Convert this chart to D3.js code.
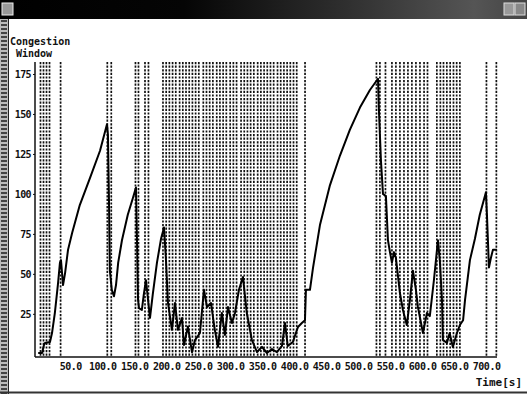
<!DOCTYPE html>
<html>
<head>
<meta charset="utf-8">
<script src="https://cdn.jsdelivr.net/npm/d3@7"></script>
<style>
  html, body { margin: 0; padding: 0; background: #fff; }
  svg { display: block; }
  text { font-family: "DejaVu Sans Mono", "Liberation Mono", monospace; font-weight: bold; fill: #111; }
</style>
</head>
<body>
<svg id="chart" width="527" height="394"></svg>
<script>
// ---- data ----
const yTicks = [25, 50, 75, 100, 125, 150, 175];
const xTicks = [50, 100, 150, 200, 250, 300, 350, 400, 450, 500, 550, 600, 650, 700];

// congestion window trace: time [s] and window size
const timeS = [0, 6, 9, 10.6, 18.4, 21.6, 26, 31, 34, 35.6, 38.8, 42, 46.6, 53, 65, 81, 96.6, 107.5,
  109, 110.6, 112, 115, 118.4, 121.6, 125, 130.9, 140, 148, 152.8,
  154.4, 156, 157.5, 162, 165, 168.4, 171.6, 174.7, 179, 185.6, 192, 196.6,
  199.7, 202.8, 209, 213.8, 218.4, 224.7, 227.8, 234, 240.3, 245, 252.8, 259, 263.8, 270, 276, 280.9,
  287, 291.9, 296.6, 302.8, 307.5, 313.7, 320, 326, 334, 341.9, 349.7, 357.5, 365.3, 373, 381,
  385.6, 390, 398, 406, 412, 416.9, 418.4, 424.7, 429.4, 440.3, 456, 471.6, 487, 502.8, 518.4, 531,
  532.5, 535.6, 538.8, 543.4, 546.6, 549.7, 552.8, 556, 559, 565.3, 570, 576, 580.9, 585.6, 590.3,
  593.4, 601.3, 607.5, 612, 618.4, 624.7, 627.8, 631, 632.5, 638.8, 643, 648, 654.4, 659, 664, 667,
  674.7, 682.5, 690, 699.7, 701.3, 704.4, 707.5, 710.6, 716.9];
const cwnd = [0.5, 0.5, 5.5, 6.8, 7.4, 13, 25.5, 44, 57, 58.6, 43, 50.5, 65, 75.5, 93, 110, 127, 143.6,
  137, 96, 52, 40, 36, 43, 57, 71, 87, 97.4, 104,
  71, 34, 28.6, 27.4, 37, 46, 34, 22.4, 37, 57, 72, 79,
  58.6, 31.8, 15, 31.8, 15, 22.4, 5.5, 17, 1, 8.6, 13, 40, 29.3, 31.8, 15, 4.3,
  25.5, 11.8, 29.3, 19.3, 25.5, 40, 48, 25.5, 8.6, 1.1, 4.3, 0.5, 3, 1.1, 4.9,
  19.3, 4.9, 7.4, 16.8, 19.3, 21, 40, 40, 53.6, 80.5, 105.5, 124, 140, 154, 165, 172,
  152, 121, 100, 98.6, 71, 63.6, 57, 63.6, 60, 38, 27.4, 18, 33.6, 52, 40,
  29.3, 13, 25.5, 23.6, 46, 71, 57.4, 33.6, 8.6, 6.8, 13, 4.3, 13, 18, 21, 33.6,
  58.6, 72, 86.8, 101, 87, 54, 60, 65, 65];

// loss / retransmission event times [s] (dashed vertical markers)
const lossTimes = [3.6, 8.3, 13, 17.7, 35,
  108, 114.2,
  152, 156.7, 166.9, 172.3,
  195, 200, 205, 210, 215, 221, 226, 231, 236, 241, 246, 251,
  258, 263, 268, 273, 279, 284, 289, 294, 300, 305, 310,
  317, 322, 327, 332, 337, 343, 348, 353, 358, 363, 368, 374, 379, 384, 389, 394, 399, 404,
  417,
  528.6, 534, 542.7,
  552.8, 559, 565.3, 571.6, 577.8,
  584, 590.3, 596.6, 603, 608.4,
  623, 628.5, 633.4, 638.6, 643.8, 649, 654, 659,
  700.5, 716];

// ---- drawing ----
const svg = d3.select("#chart");
const W = 527, H = 394;

const defs = svg.append("defs");
const grad = defs.append("linearGradient").attr("id", "tb").attr("x1", 0).attr("x2", 1).attr("y1", 0).attr("y2", 0);
grad.append("stop").attr("offset", "0").attr("stop-color", "#000");
grad.append("stop").attr("offset", "0.35").attr("stop-color", "#050505");
grad.append("stop").attr("offset", "0.65").attr("stop-color", "#2e2e2e");
grad.append("stop").attr("offset", "0.9").attr("stop-color", "#555");
grad.append("stop").attr("offset", "1").attr("stop-color", "#444");

const pat = defs.append("pattern").attr("id", "strip").attr("width", 8).attr("height", 4).attr("patternUnits", "userSpaceOnUse");
pat.append("rect").attr("width", 8).attr("height", 4).attr("fill", "#bbb");
pat.append("rect").attr("x", 1).attr("y", 0).attr("width", 6).attr("height", 2).attr("fill", "#444");

svg.append("rect").attr("width", W).attr("height", H).attr("fill", "#fff");

// window chrome
svg.append("rect").attr("x", 0).attr("y", 0).attr("width", W).attr("height", 19).attr("fill", "url(#tb)");
svg.append("rect").attr("x", 2).attr("y", 3).attr("width", 11).attr("height", 12).attr("fill", "#999").attr("stroke", "#eee").attr("stroke-width", 1);
svg.append("rect").attr("x", 504).attr("y", 3).attr("width", 10).attr("height", 12).attr("fill", "#999").attr("stroke", "#ddd");
svg.append("rect").attr("x", 515).attr("y", 3).attr("width", 10).attr("height", 12).attr("fill", "#888").attr("stroke", "#ddd");
svg.append("rect").attr("x", 0).attr("y", 19).attr("width", 8).attr("height", H - 19).attr("fill", "url(#strip)");
svg.append("line").attr("x1", 8.5).attr("x2", 8.5).attr("y1", 19).attr("y2", H).attr("stroke", "#222").attr("stroke-width", 1);
svg.append("line").attr("x1", 0).attr("x2", W).attr("y1", 392.5).attr("y2", 392.5).attr("stroke", "#333").attr("stroke-width", 2);

// scales
const x = d3.scaleLinear().domain([-5, 717]).range([35, 497]);
const y = d3.scaleLinear().domain([-2, 182.5]).range([357, 62]);

// loss markers
svg.append("g").selectAll("line").data(lossTimes).join("line")
  .attr("x1", d => x(d)).attr("x2", d => x(d))
  .attr("y1", y(182.5)).attr("y2", y(-2))
  .attr("stroke", "#111").attr("stroke-width", 1.7)
  .attr("stroke-dasharray", "2.2,1.4");

// axes
const yAxis = d3.axisLeft(y).tickValues(yTicks).tickSize(2).tickPadding(2).tickFormat(d3.format("d"));
const gy = svg.append("g").attr("transform", "translate(35,0)").call(yAxis);
gy.select(".domain").attr("d", `M0,${y(182.5)}V${y(-2)}`).attr("stroke", "#111").attr("stroke-width", 1.5);
gy.selectAll(".tick line").attr("stroke", "#111");
gy.selectAll(".tick text").attr("font-size", 10).attr("letter-spacing", -0.6)
  .style("font-family", "'DejaVu Sans Mono', monospace").style("font-weight", "bold").attr("fill", "#111");

const xAxis = d3.axisBottom(x).tickValues(xTicks).tickSize(0).tickPadding(6).tickFormat(d => d.toFixed(1));
const gx = svg.append("g").attr("transform", "translate(0,357)").call(xAxis);
gx.select(".domain").attr("d", `M35,0H497`).attr("stroke", "#111").attr("stroke-width", 1.5);
gx.selectAll(".tick text").attr("font-size", 10).attr("letter-spacing", -0.5)
  .style("font-family", "'DejaVu Sans Mono', monospace").style("font-weight", "bold").attr("fill", "#111");

// curve
const pts = timeS.map((t, i) => [t, cwnd[i]]);
svg.append("path").datum(pts)
  .attr("fill", "none").attr("stroke", "#000").attr("stroke-width", 2)
  .attr("stroke-linejoin", "round")
  .attr("d", d3.line().x(d => x(d[0])).y(d => y(d[1])));

// labels
svg.append("text").attr("x", 10).attr("y", 45).attr("font-size", 10).text("Congestion");
svg.append("text").attr("x", 16).attr("y", 57).attr("font-size", 10).text("Window");
svg.append("text").attr("x", 522).attr("y", 386).attr("font-size", 11).attr("text-anchor", "end").text("Time[s]");
</script>
</body>
</html>
